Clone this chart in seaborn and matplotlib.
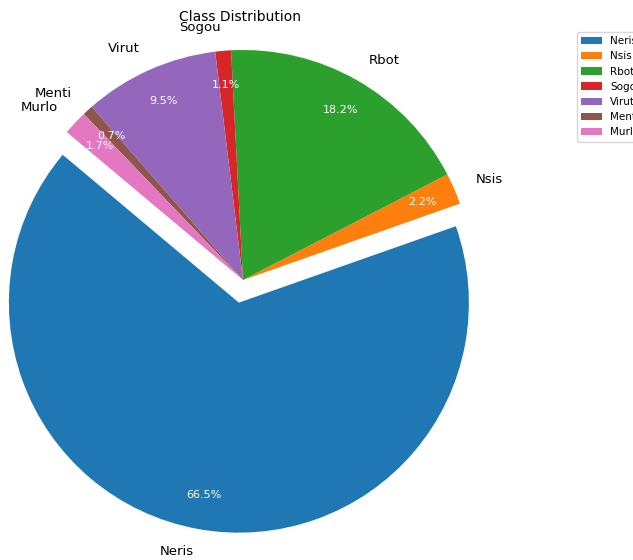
import matplotlib
matplotlib.use("Agg")
import matplotlib.pyplot as plt
import seaborn as sns

categories = ["Neris", "Nsis", "Rbot", "Sogou", "Virut", "Menti", "Murlo"]
shares = [66.5, 2.2, 18.24, 1.1, 9.5, 0.74, 1.72]
explode = [0.1, 0, 0, 0, 0, 0, 0]

plt.rcParams['font.family'] = ['DejaVu Sans']
colors = sns.color_palette("tab10", len(categories))

fig = plt.figure(figsize=(6.33, 5.6), dpi=100)
R = 230.0
cx, cy = 243.0, 280.0
ax = fig.add_axes([0, 0, 486 / 633, 1])
wedges, texts, autotexts = ax.pie(shares, labels=categories, colors=colors, explode=explode,
                                  startangle=140, autopct='%1.1f%%', pctdistance=0.85,
                                  textprops={'fontsize': 9.5, 'color': 'black'})
for t in autotexts:
    t.set_color('white')
    t.set_fontsize(8)
ax.set_xlim(-cx / R, (486 - cx) / R)
ax.set_ylim(-(560 - cy) / R, cy / R)
ax.set_aspect('equal', adjustable='datalim')
fig.text(240 / 633, 1 - 17 / 560, "Class Distribution", ha='center', va='center', fontsize=10)
fig.legend(wedges, categories, loc='upper left', bbox_to_anchor=(577 / 633, 1 - 32 / 560),
           borderaxespad=0, fontsize=7.5, frameon=True)
fig.savefig("out.png", dpi=100)
